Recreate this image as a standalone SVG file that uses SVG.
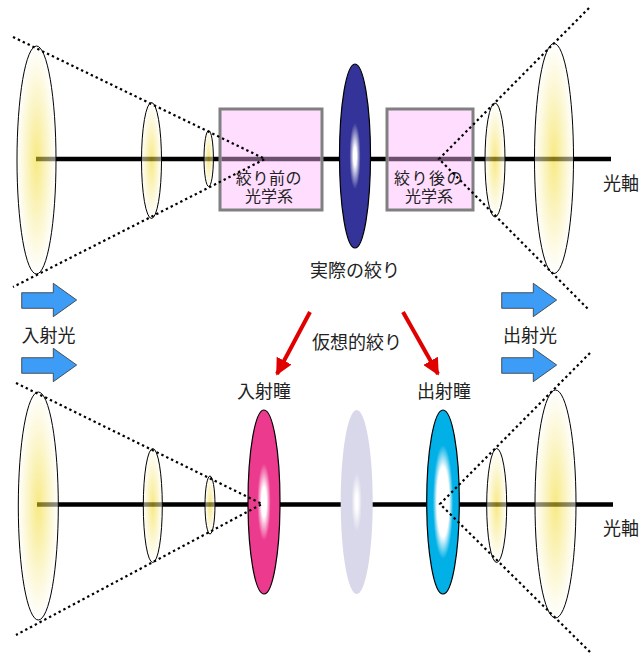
<svg xmlns="http://www.w3.org/2000/svg" width="639" height="655" viewBox="0 0 639 655">
  <defs>
    <radialGradient id="gLens" cx="0.5" cy="0.5" r="0.5">
      <stop offset="0" stop-color="#f2d820"/>
      <stop offset="0.55" stop-color="#f8eea0"/>
      <stop offset="1" stop-color="#ffffff"/>
    </radialGradient>
    <radialGradient id="gStop" cx="0.5" cy="0.5" r="0.5">
      <stop offset="0" stop-color="#ffffff"/>
      <stop offset="0.1" stop-color="#ffffff"/>
      <stop offset="0.36" stop-color="#333399"/>
      <stop offset="1" stop-color="#333399"/>
    </radialGradient>
    <radialGradient id="gEntr" cx="0.5" cy="0.5" r="0.5">
      <stop offset="0" stop-color="#ffffff"/>
      <stop offset="0.16" stop-color="#ffffff"/>
      <stop offset="0.42" stop-color="#ec3a8e"/>
      <stop offset="1" stop-color="#ec3a8e"/>
    </radialGradient>
    <radialGradient id="gExit" cx="0.5" cy="0.5" r="0.5">
      <stop offset="0" stop-color="#ffffff"/>
      <stop offset="0.38" stop-color="#ffffff"/>
      <stop offset="0.62" stop-color="#00b0e6"/>
      <stop offset="1" stop-color="#00b0e6"/>
    </radialGradient>
    <radialGradient id="gVirt" cx="0.5" cy="0.5" r="0.5">
      <stop offset="0" stop-color="#ffffff"/>
      <stop offset="0.08" stop-color="#ffffff"/>
      <stop offset="0.32" stop-color="#d8d8ea"/>
      <stop offset="1" stop-color="#d8d8ea"/>
    </radialGradient>
    <marker id="redHead" viewBox="0 0 10 10" refX="9" refY="5" markerWidth="4.2" markerHeight="4.2" orient="auto" markerUnits="strokeWidth">
      <path d="M0,0 L10,5 L0,10 Z" fill="#e00000"/>
    </marker>
  </defs>
  <style>
    text { font-family: "Noto Sans CJK JP", "Noto Sans", sans-serif; font-size: 18px; fill: #222; }
    .boxText { font-family: "Liberation Sans", "Noto Sans CJK JP", sans-serif; font-size: 16px; }
    .axis { stroke: #000; stroke-width: 4.5; fill: none; }
    .axisBox { stroke: #6c506e; stroke-width: 4.5; fill: none; }
    .lens { fill: url(#gLens); fill-opacity: 0.55; stroke: #000; stroke-width: 1; }
    .box { fill: #ffddff; stroke: #808080; stroke-width: 3; }
    .ray { stroke: #000; stroke-width: 2.2; stroke-dasharray: 2.4 3; fill: none; }
    .pupil { stroke: #000; stroke-width: 1.2; }
    .beam { fill: #3d9cf5; stroke: #333; stroke-width: 0.8; }
    .pointer { stroke: #e00000; stroke-width: 4; fill: none; marker-end: url(#redHead); }
  </style>

  <!-- upper system: real aperture stop -->
  <g id="axis-top">
    <line class="axis" x1="36" y1="159" x2="611" y2="159"/>
  </g>
  <g id="box-front">
    <rect class="box" x="220" y="109" width="102" height="101"/>
    <line class="axisBox" x1="221.5" y1="159" x2="320.5" y2="159"/>
    <text class="boxText" x="269" y="183.5" text-anchor="middle" letter-spacing="0.6">絞り前の</text>
    <text class="boxText" x="269" y="201.8" text-anchor="middle">光学系</text>
  </g>
  <g id="box-rear">
    <rect class="box" x="387" y="109" width="86" height="101"/>
    <line class="axisBox" x1="388.5" y1="159" x2="471.5" y2="159"/>
    <text class="boxText" x="429" y="183.5" text-anchor="middle" letter-spacing="1.5">絞り後の</text>
    <text class="boxText" x="429" y="201.8" text-anchor="middle">光学系</text>
  </g>
  <g id="stop-real">
    <ellipse class="pupil" cx="355" cy="156" rx="15.5" ry="92" fill="url(#gStop)"/>
  </g>
  <g id="lenses-top">
    <ellipse class="lens" cx="36.5" cy="160" rx="19.5" ry="114"/>
    <ellipse class="lens" cx="151.5" cy="160.5" rx="10" ry="58"/>
    <ellipse class="lens" cx="208.7" cy="158.5" rx="4.7" ry="28"/>
    <ellipse class="lens" cx="495" cy="160" rx="10" ry="57"/>
    <ellipse class="lens" cx="554" cy="158.5" rx="19.5" ry="115"/>
  </g>

  <!-- lower system: virtual stop, entrance and exit pupils -->
  <g id="axis-bottom">
    <line class="axis" x1="37" y1="504.5" x2="613" y2="504.5"/>
  </g>
  <g id="stop-virtual">
    <ellipse cx="356.7" cy="502" rx="16" ry="92" fill="url(#gVirt)"/>
  </g>
  <g id="entrance-pupil">
    <ellipse class="pupil" cx="264" cy="502" rx="16" ry="92" fill="url(#gEntr)"/>
  </g>
  <g id="exit-pupil">
    <ellipse class="pupil" cx="443" cy="502" rx="16.3" ry="92" fill="url(#gExit)"/>
  </g>
  <g id="lenses-bottom">
    <ellipse class="lens" cx="38.3" cy="506" rx="20" ry="114"/>
    <ellipse class="lens" cx="152.8" cy="505.5" rx="9.5" ry="57"/>
    <ellipse class="lens" cx="210" cy="505" rx="5" ry="29"/>
    <ellipse class="lens" cx="496.7" cy="505.5" rx="10" ry="57"/>
    <ellipse class="lens" cx="555.5" cy="504" rx="20.5" ry="114"/>
  </g>

  <!-- marginal rays and pointers -->
  <g id="connectors">
    <polyline class="ray" points="13,37 265,159 13,287"/>
    <polyline class="ray" points="589,8 439,159 589,310"/>
    <polyline class="ray" points="16,383 262,504 16,635"/>
    <polyline class="ray" points="590,353 440,504 592,654"/>
    <line class="pointer" x1="310" y1="312" x2="277" y2="374"/>
    <line class="pointer" x1="403" y1="312" x2="438" y2="374"/>
  </g>

  <!-- light direction arrows -->
  <g id="beam-in">
    <path class="beam" d="M21.7,292.7 H53.3 V283.3 L76.7,300 L53.3,316.7 V308.3 H21.7 Z"/>
    <path class="beam" d="M21.7,357.7 H53.3 V348.3 L76.7,365 L53.3,381.7 V373.3 H21.7 Z"/>
  </g>
  <g id="beam-out">
    <path class="beam" d="M501.7,292.7 H533.3 V283.3 L556.7,300 L533.3,316.7 V308.3 H501.7 Z"/>
    <path class="beam" d="M501.7,357.7 H533.3 V348.3 L556.7,365 L533.3,381.7 V373.3 H501.7 Z"/>
  </g>

  <g id="labels">
    <text x="603" y="190">光軸</text>
    <text x="603" y="535">光軸</text>
    <text x="355" y="277" text-anchor="middle">実際の絞り</text>
    <text x="48.5" y="341.5" text-anchor="middle">入射光</text>
    <text x="530" y="341.5" text-anchor="middle">出射光</text>
    <text x="357" y="348.5" text-anchor="middle">仮想的絞り</text>
    <text x="264" y="398" text-anchor="middle">入射瞳</text>
    <text x="444" y="398" text-anchor="middle">出射瞳</text>
  </g>
</svg>
